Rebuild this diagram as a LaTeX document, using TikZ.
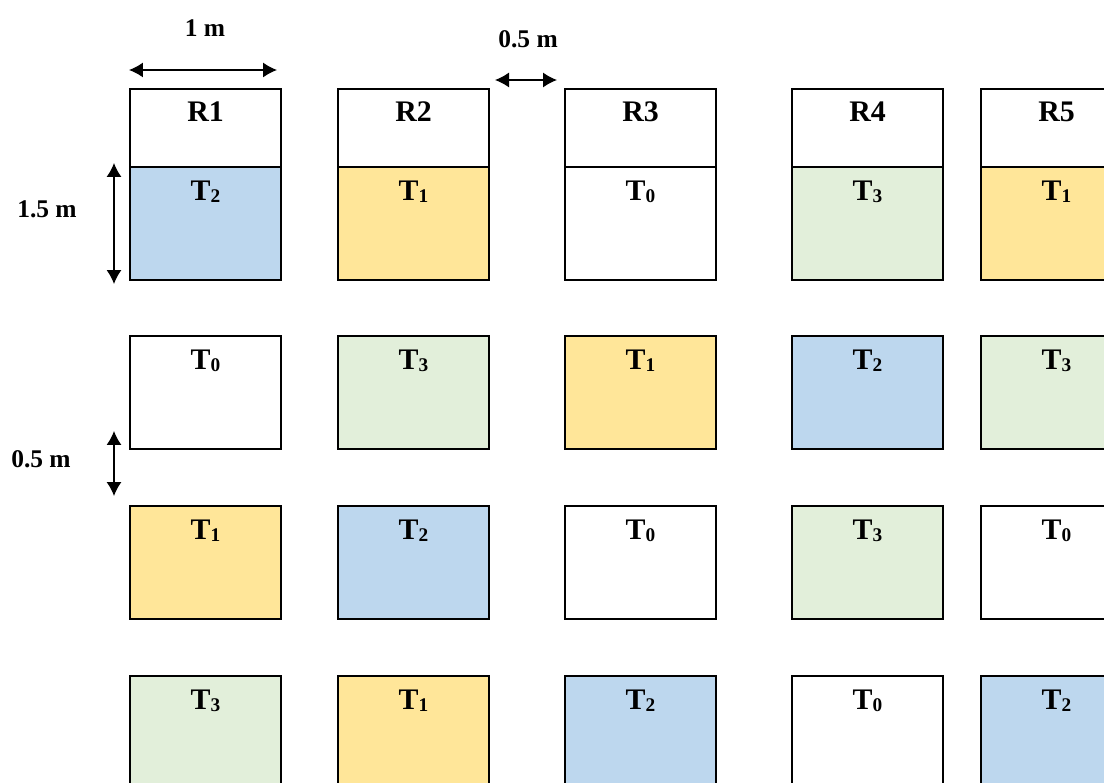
\documentclass[tikz,border=0pt]{standalone}
\usepackage{fontspec}
\setmainfont{Liberation Serif}
\usetikzlibrary{arrows.meta}
\definecolor{t0}{HTML}{FFFFFF}
\definecolor{t1}{HTML}{FFE699}
\definecolor{t2}{HTML}{BDD7EE}
\definecolor{t3}{HTML}{E2EFDA}
\newcommand{\tsub}[1]{T\raisebox{-1.2pt}{\fontsize{11}{12}\selectfont #1}}
\tikzset{
  cell/.style={draw=black,line width=1.3pt},
  tag/.style={font=\fontsize{17}{20}\selectfont\bfseries,inner sep=0pt},
  dimtxt/.style={font=\fontsize{14.5}{17}\selectfont\bfseries,inner sep=0pt},
  dim/.style={line width=0.7pt,{Latex[length=0.28cm,width=0.3cm]}-{Latex[length=0.28cm,width=0.3cm]}}
}
\begin{document}
\begin{tikzpicture}[x=0.02cm,y=-0.02cm]
        \useasboundingbox (0,0) rectangle (1104,783);
        \clip (0,0) rectangle (1104,783);
        \foreach \x/\r/\a/\b/\c/\d [count=\i] in {130/R1/2/0/1/3,338/R2/1/3/2/1,565/R3/0/1/0/2,792/R4/3/2/3/0,981/R5/1/3/0/2}{
            \draw[cell] (\x,89) rectangle ++(151,78);
            \node[tag] (r\i) at (\x+75.5,112) {\r};
            \draw[cell,fill=t\a] (\x,167) rectangle ++(151,113);
            \node[tag] (a\i) at (\x+75.5,192) {\tsub{\a}};
            \draw[cell,fill=t\b] (\x,336) rectangle ++(151,113);
            \node[tag] (b\i) at (\x+75.5,361) {\tsub{\b}};
            \draw[cell,fill=t\c] (\x,506) rectangle ++(151,113);
            \node[tag] (c\i) at (\x+75.5,531) {\tsub{\c}};
            \draw[cell,fill=t\d] (\x,676) rectangle ++(151,113);
            \node[tag] (d\i) at (\x+75.5,701) {\tsub{\d}};
        }
        \coordinate (W1) at (129,70);
        \coordinate (W2) at (277,70);
        \coordinate (G1) at (495,80);
        \coordinate (G2) at (557,80);
        \coordinate (H1) at (114,163);
        \coordinate (H2) at (114,284);
        \coordinate (S1) at (114,431);
        \coordinate (S2) at (114,496);
        \draw[dim] (W1) -- (W2);
        \draw[dim] (G1) -- (G2);
        \draw[dim] (H1) -- (H2);
        \draw[dim] (S1) -- (S2);
        \node[dimtxt] (w) at (205,28) {1 m};
        \node[dimtxt] (g) at (528,39) {0.5 m};
        \node[dimtxt] (h) at (47,209) {1.5 m};
        \node[dimtxt] (s) at (41,459) {0.5 m};
    \end{tikzpicture}
\end{document}
